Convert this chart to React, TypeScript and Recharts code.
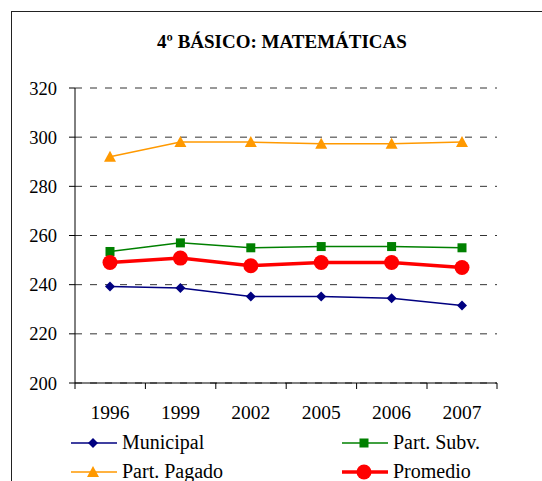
import { LineChart, Line, XAxis, YAxis, CartesianGrid } from 'recharts';

const years = ['1996', '1999', '2002', '2005', '2006', '2007'];
const municipal = [239.3, 238.6, 235.2, 235.2, 234.5, 231.5];
const partSubv = [253.5, 257, 255, 255.5, 255.5, 255];
const partPagado = [292, 298, 298, 297.3, 297.3, 298];
const promedio = [249, 250.8, 247.7, 249, 249, 247];
const yTicks = [200, 220, 240, 260, 280, 300, 320];

const data = years.map((year, i) => ({
  year,
  municipal: municipal[i],
  partSubv: partSubv[i],
  partPagado: partPagado[i],
  promedio: promedio[i],
}));

const FONT = '"Liberation Serif", "Times New Roman", serif';
const HALF_BAND = 35;

const Diamond = ({ cx, cy, color }: any) => (
  <polygon
    points={`${cx},${cy - 5} ${cx + 5},${cy} ${cx},${cy + 5} ${cx - 5},${cy}`}
    fill={color}
  />
);
const Square = ({ cx, cy, color }: any) => (
  <rect x={cx - 4.5} y={cy - 4.5} width={9} height={9} fill={color} />
);
const Triangle = ({ cx, cy, color }: any) => (
  <polygon
    points={`${cx},${cy - 6} ${cx + 6},${cy + 5} ${cx - 6},${cy + 5}`}
    fill={color}
  />
);
const Circle = ({ cx, cy, color }: any) => <circle cx={cx} cy={cy} r={7.5} fill={color} />;

const series = [
  { key: 'municipal', name: 'Municipal', color: '#000080', width: 1.5, Marker: Diamond },
  { key: 'partSubv', name: 'Part. Subv.', color: '#008000', width: 1.5, Marker: Square },
  { key: 'partPagado', name: 'Part. Pagado', color: '#FF9900', width: 1.5, Marker: Triangle },
  { key: 'promedio', name: 'Promedio', color: '#FF0000', width: 3.5, Marker: Circle },
];

const XTick = ({ x, y, payload, index }: any) => (
  <g>
    <line x1={x - HALF_BAND} x2={x - HALF_BAND} y1={y} y2={y + 6} stroke="#000" />
    {index === years.length - 1 && (
      <line x1={x + HALF_BAND} x2={x + HALF_BAND} y1={y} y2={y + 6} stroke="#000" />
    )}
    <text x={x} y={y + 36} textAnchor="middle" fontFamily={FONT} fontSize={19.5} fill="#000">
      {payload.value}
    </text>
  </g>
);

const LegendItem = ({ s }: any) => (
  <div style={{ display: 'flex', alignItems: 'center', height: 29 }}>
    <svg width={48} height={16}>
      <line x1={1} x2={47} y1={8} y2={8} stroke={s.color} strokeWidth={s.width} />
      <s.Marker cx={23} cy={8} color={s.color} />
    </svg>
    <span style={{ marginLeft: 4, fontFamily: FONT, fontSize: 20, color: '#000' }}>{s.name}</span>
  </div>
);

export default function App() {
  return (
    <div style={{ position: 'absolute', left: 0, top: 0, width: 542, height: 481, background: '#fff' }}>
      <div
        style={{
          position: 'absolute',
          left: 11,
          top: 11,
          width: 540,
          height: 480,
          borderTop: '1.5px solid #222',
          borderLeft: '1.5px solid #222',
        }}
      />
      <div
        style={{
          position: 'absolute',
          left: 0,
          top: 31,
          width: 564,
          textAlign: 'center',
          fontFamily: FONT,
          fontWeight: 'bold',
          fontSize: 19,
          color: '#000',
        }}
      >
        4º BÁSICO: MATEMÁTICAS
      </div>
      <div style={{ position: 'absolute', left: 0, top: 0 }}>
        <LineChart width={542} height={481} data={data} margin={{ top: 88, right: 45, left: 0, bottom: 58 }}>
          <CartesianGrid vertical={false} strokeDasharray="7 8" stroke="#333" />
          <XAxis
            dataKey="year"
            height={40}
            padding={{ left: HALF_BAND, right: HALF_BAND }}
            axisLine={{ stroke: '#000' }}
            tickLine={false}
            tickSize={0}
            tickMargin={0}
            tick={<XTick />}
            interval={0}
          />
          <YAxis
            width={75}
            domain={[200, 320]}
            ticks={yTicks}
            axisLine={{ stroke: '#000' }}
            tickLine={{ stroke: '#000' }}
            tickSize={6}
            tickMargin={12}
            tick={{ fontFamily: FONT, fontSize: 18.5, fill: '#000' }}
          />
          {series.map((s) => (
            <Line
              key={s.key}
              dataKey={s.key}
              name={s.name}
              stroke={s.color}
              strokeWidth={s.width}
              isAnimationActive={false}
              dot={(p: any) => <s.Marker key={`${s.key}-${p.index}`} cx={p.cx} cy={p.cy} color={s.color} />}
              activeDot={false}
            />
          ))}
        </LineChart>
      </div>
      <div style={{ position: 'absolute', left: 70, top: 428 }}>
        <LegendItem s={series[0]} />
        <LegendItem s={series[2]} />
      </div>
      <div style={{ position: 'absolute', left: 341, top: 428 }}>
        <LegendItem s={series[1]} />
        <LegendItem s={series[3]} />
      </div>
    </div>
  );
}
